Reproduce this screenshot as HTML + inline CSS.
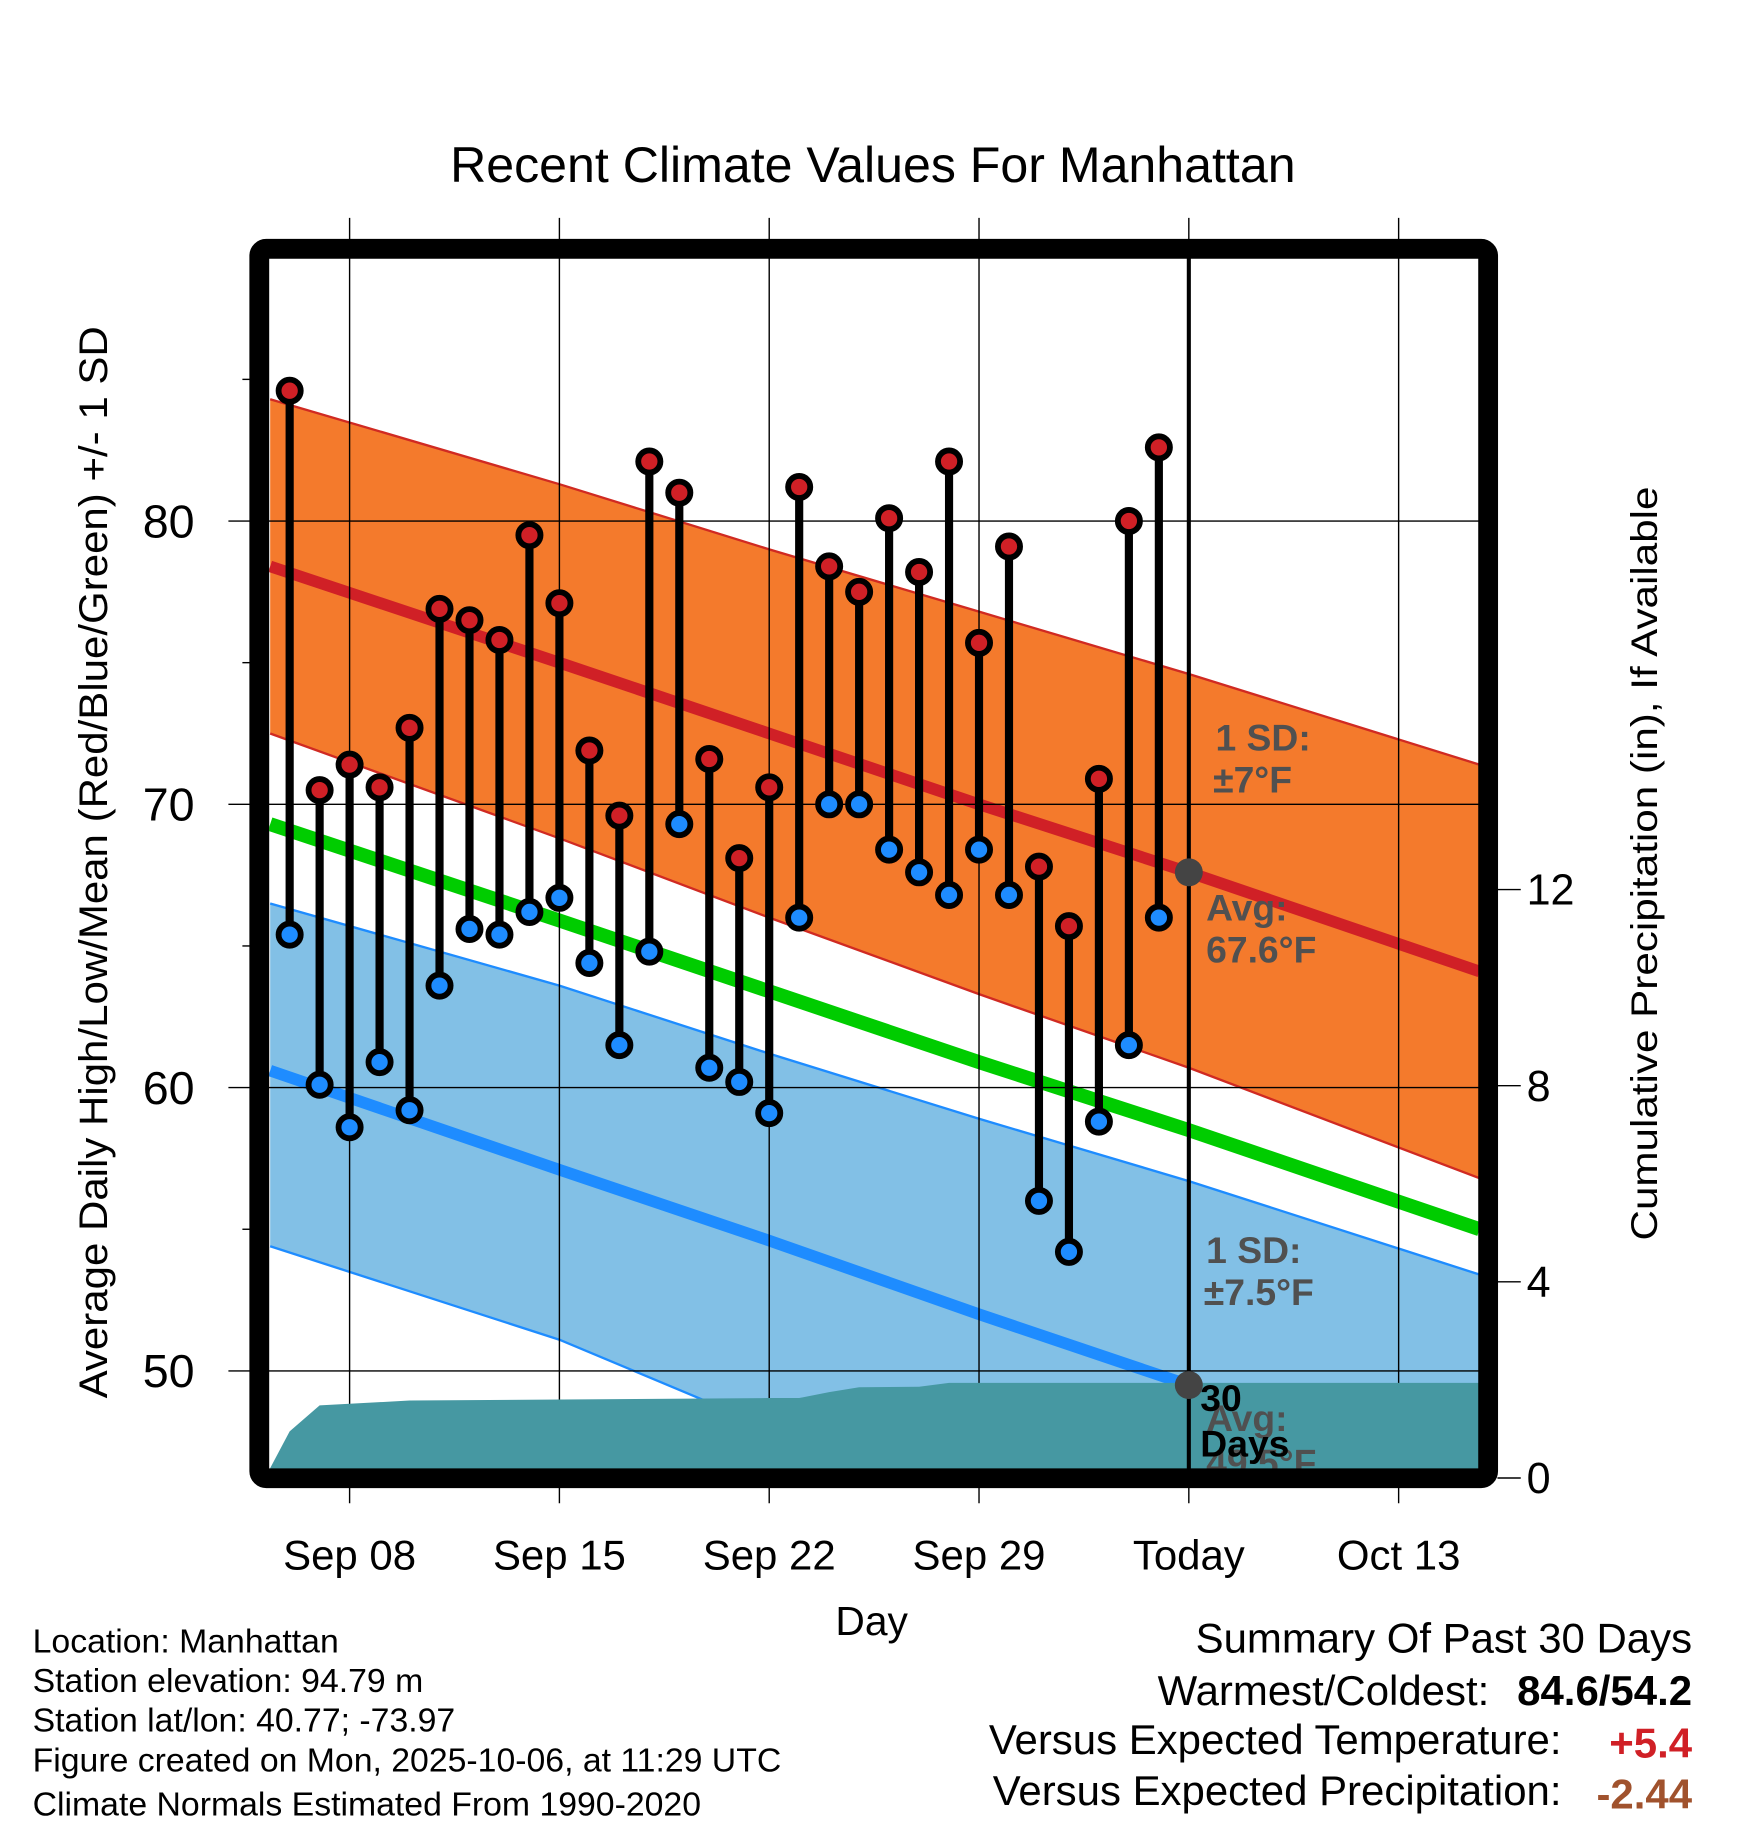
<!DOCTYPE html>
<html><head><meta charset="utf-8"><style>
html,body{margin:0;padding:0;background:#fff;}
svg{display:block;font-family:"Liberation Sans",Arial,sans-serif;}
</style></head><body>
<svg id="chart" width="1748" height="1828" viewBox="0 0 1500 1568.65" xmlns="http://www.w3.org/2000/svg">
<rect width="1500" height="1568.65" fill="#fff"/>
<defs><clipPath id="plotclip"><rect x="231" y="223" width="1038" height="1037"/></clipPath></defs>
<text x="749" y="156" font-size="43" text-anchor="middle">Recent Climate Values For Manhattan</text>
<g id="plot" clip-path="url(#plotclip)"></g>
<g id="over"></g>
</svg>
<script>
// ---- data ----
const dayLabels = ["Sep 08","Sep 15","Sep 22","Sep 29","Today","Oct 13"];
const dayTicks = [0,7,14,21,28,35];
const obsDays = [-2,-1,0,1,2,3,4,5,6,7,8,9,10,11,12,13,14,15,16,17,18,19,20,21,22,23,24,25,26,27];
const highs = [84.6,70.5,71.4,70.6,72.7,76.9,76.5,75.8,79.5,77.1,71.9,69.6,82.1,81.0,71.6,68.1,70.6,81.2,78.4,77.5,80.1,78.2,82.1,75.7,79.1,67.8,65.7,70.9,80.0,82.6];
const lows = [65.4,60.1,58.6,60.9,59.2,63.6,65.6,65.4,66.2,66.7,64.4,61.5,64.8,69.3,60.7,60.2,59.1,66.0,70.0,70.0,68.4,67.6,66.8,68.4,66.8,56.0,54.2,58.8,61.5,66.0];
const normDays = [-2.65,7,14,21,28,37.7];
const highSDTop = [84.3,81.3,79.0,76.8,74.6,71.4];
const highMean = [78.4,75.0,72.5,70.0,67.6,64.1];
const highSDBot = [72.5,68.8,66.0,63.3,60.7,56.8];
const meanTemp = [69.3,65.9,63.4,60.9,58.5,55.0];
const lowSDTop = [66.5,63.6,61.2,58.9,56.7,53.4];
const lowMean = [60.6,57.1,54.6,52.0,49.5,46.0];
const lowSDBot = [54.4,51.1,48.0,44.9,41.8,37.5];
const precipDays = [-2.65,-2,-1,2,14,15,16,17,19,20,37.7];
const precipCum = [0.2,0.95,1.48,1.58,1.63,1.63,1.75,1.85,1.86,1.94,1.94];
const tempTicks = [50,60,70,80];
const minorTicks = [55,65,75,85];
const precipTicks = [0,4,8,12];

// ---- axes ----
const X = d => 300 + d*25.72;
const Y = t => 447.1 + (80-t)*24.31;
const P = p => 1268.3 - p*42.08;
const NS = "http://www.w3.org/2000/svg";
const svg = document.getElementById('chart');
const plot = document.getElementById('plot');
const over = document.getElementById('over');
function mk(tag, attrs, parent, text){
  const e = document.createElementNS(NS, tag);
  for (const k in attrs) e.setAttribute(k, attrs[k]);
  if (text !== undefined) e.textContent = text;
  (parent||svg).appendChild(e);
  return e;
}
function pts(days, vals){ return days.map((d,i)=>X(d)+','+Y(vals[i])).join(' '); }
function band(top, bot, fill, stroke, name){
  const p = pts(normDays, top) + ' ' + normDays.slice().reverse().map((d,i)=>X(d)+','+Y(bot[bot.length-1-i])).join(' ');
  const e = mk('polygon', {points:p, fill:fill}, plot);
  
  
  [top,bot].forEach(a=>{
    const l = mk('polyline', {points:pts(normDays,a), fill:'none', stroke:stroke, 'stroke-width':2}, plot);
    
    
  });
}
function line(vals, color, w, name){
  const l = mk('polyline', {points:pts(normDays,vals), fill:'none', stroke:color, 'stroke-width':w}, plot);
  
  
}
band(highSDTop, highSDBot, '#f47a2c', '#d02a22', 'high-sd-band');
band(lowSDTop, lowSDBot, '#82c0e6', '#1e8cff', 'low-sd-band');
line(highMean, '#d02026', 10, 'normal-high-line');
line(lowMean, '#1e8cff', 10, 'normal-low-line');
line(meanTemp, '#00cc00', 12, 'normal-mean-line');

// grid
dayTicks.forEach((d,i)=>{
  const g = mk('line', {x1:X(d), x2:X(d), y1:187, y2:1290, stroke:'#000', 'stroke-width':1.2}, over);
  
  
  const t = mk('text', {x:X(d), y:1347, 'font-size':36, 'text-anchor':'middle'}, svg, dayLabels[i]);
  
  
});
tempTicks.forEach(v=>{
  const g = mk('line', {x1:196, x2:1269, y1:Y(v), y2:Y(v), stroke:'#000', 'stroke-width':1.2}, over);
  
  
  const t = mk('text', {x:167, y:Y(v)+14, 'font-size':40, 'text-anchor':'end'}, svg, String(v));
  
  
});
minorTicks.forEach(v=>{
  const g = mk('line', {x1:208, x2:215, y1:Y(v), y2:Y(v), stroke:'#000', 'stroke-width':1.2}, svg);
  
  
});
precipTicks.forEach(v=>{
  const g = mk('line', {x1:1285, x2:1305, y1:P(v), y2:P(v), stroke:'#000', 'stroke-width':1.2}, svg);
  
  
  const t = mk('text', {x:1310, y:P(v)+13, 'font-size':37}, svg, String(v));
  
  
});
// precip area
{
  const p = precipDays.map((d,i)=>X(d)+','+P(precipCum[i])).join(' ') + ' ' + X(37.7)+','+P(0)+' '+X(-2.65)+','+P(0);
  const a = mk('polygon', {points:p, fill:'#4698a2'}, over);
  
  
}
// obs bars
obsDays.forEach((d,i)=>{
  const b = mk('line', {x1:X(d), x2:X(d), y1:Y(highs[i]), y2:Y(lows[i]), stroke:'#000', 'stroke-width':7}, over);
  
  
});
obsDays.forEach((d,i)=>{
  const h = mk('circle', {cx:X(d), cy:Y(highs[i]), r:9.5, fill:'#d02026', stroke:'#000', 'stroke-width':5}, over);
  
  
  const l = mk('circle', {cx:X(d), cy:Y(lows[i]), r:9.5, fill:'#1e8cff', stroke:'#000', 'stroke-width':5}, over);
  
  
});
// today line
{
  const t = mk('line', {x1:X(28), x2:X(28), y1:214, y2:1262, stroke:'#000', 'stroke-width':3.5}, over);
  
  
  const c1 = mk('circle', {cx:X(28), cy:Y(highMean[4]), r:12, fill:'#444'}, over);
  
  
  const c2 = mk('circle', {cx:X(28), cy:Y(lowMean[4]), r:12, fill:'#444'}, over);
  
  
}
</script>
<svg style="position:absolute;left:0;top:0" width="1748" height="1828" viewBox="0 0 1500 1568.65" xmlns="http://www.w3.org/2000/svg" font-family="Liberation Sans, Arial, sans-serif">
<g font-weight="bold" font-size="32" fill="#505050">
<text x="1043" y="644">1 SD:</text>
<text x="1041" y="680">±7°F</text>
<text x="1035" y="790">Avg:</text>
<text x="1035" y="826">67.6°F</text>
<text x="1035" y="1084">1 SD:</text>
<text x="1033" y="1120">±7.5°F</text>
<text x="1035" y="1228">Avg:</text>
<text x="1035" y="1266">49.5°F</text>
<text x="1030" y="1211" fill="#000">30</text>
<text x="1030" y="1250" fill="#000">Days</text>
</g>
<rect x="222.5" y="213.5" width="1054.5" height="1055" rx="6" fill="none" stroke="#000" stroke-width="17"/>
<text transform="translate(92,740) rotate(-90)" font-size="34" text-anchor="middle" textLength="920" lengthAdjust="spacingAndGlyphs">Average Daily High/Low/Mean (Red/Blue/Green) +/- 1 SD</text>
<text transform="translate(1422,741) rotate(-90)" font-size="32" text-anchor="middle" textLength="647" lengthAdjust="spacingAndGlyphs">Cumulative Precipitation (in), If Available</text>
<text x="748" y="1403" font-size="35" text-anchor="middle">Day</text>
<g font-size="29">
<text x="28" y="1418">Location: Manhattan</text>
<text x="28" y="1452">Station elevation: 94.79 m</text>
<text x="28" y="1486">Station lat/lon: 40.77; -73.97</text>
<text x="28" y="1520">Figure created on Mon, 2025-10-06, at 11:29 UTC</text>
<text x="28" y="1558">Climate Normals Estimated From 1990-2020</text>
</g>
<g font-size="36">
<text x="1452" y="1418" text-anchor="end">Summary Of Past 30 Days</text>
<text x="1278" y="1463" text-anchor="end">Warmest/Coldest:</text>
<text x="1452" y="1463" text-anchor="end" font-weight="bold">84.6/54.2</text>
<text x="1340" y="1505" text-anchor="end">Versus Expected Temperature:</text>
<text x="1452" y="1508" text-anchor="end" font-weight="bold" fill="#d02026">+5.4</text>
<text x="1340" y="1549" text-anchor="end">Versus Expected Precipitation:</text>
<text x="1452" y="1552" text-anchor="end" font-weight="bold" fill="#a0522d">-2.44</text>
</g>
</svg>
</body></html>
